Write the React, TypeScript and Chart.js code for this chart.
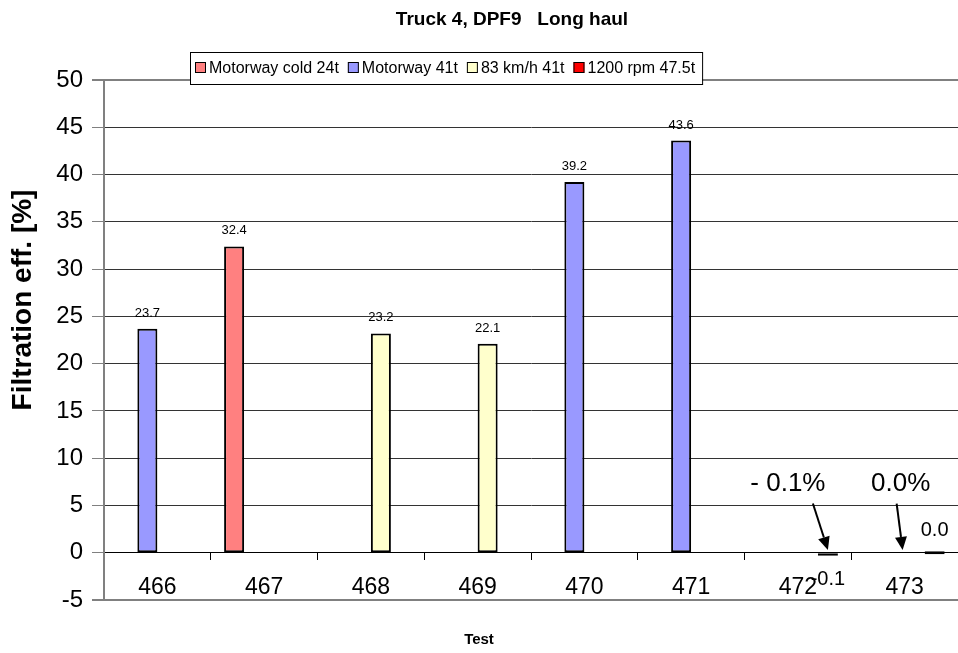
import React, { useEffect, useRef } from 'react';
import { Chart, registerables } from 'chart.js';

Chart.register(...registerables);

// ---------- data ----------
const tests = ['466', '467', '468', '469', '470', '471', '472', '473'];
const seriesNames = ['Motorway cold 24t', 'Motorway 41t', '83 km/h 41t', '1200 rpm 47.5t'];
const motorwayCold24t = [null, 32.4, null, null, null, null, null, null];
const motorway41t = [23.7, null, null, null, 39.2, 43.6, null, null];
const kmh83_41t = [null, null, 23.2, 22.1, null, null, null, null];
const rpm1200_475t = [null, null, null, null, null, null, -0.1, 0.0];
const yMin = -5;
const yMax = 50;
const yStep = 5;
const chartTitle = 'Truck 4, DPF9   Long haul';
const yTitle = 'Filtration eff. [%]';
const xTitle = 'Test';
const bigLabelTests = ['472', '473'];
const callouts = [
  { test: '472', text: '- 0.1%' },
  { test: '473', text: '0.0%' },
];

// ---------- style ----------
const FONT = '"Liberation Sans", Arial, Helvetica, sans-serif';
const colors = ['#FF8080', '#9999FF', '#FFFFCC', '#FF0000'];
const calloutStyle: Record<string, { tdx: number; tv: number; sdx: number; sv: number; edx: number; ev: number }> = {
  '472': { tdx: -40, tv: 7.3, sdx: -15, sv: 5.2, edx: 0, ev: 0.3 },
  '473': { tdx: -34, tv: 7.3, sdx: -38, sv: 5.2, edx: -32, ev: 0.3 },
};

function drawArrow(ctx: CanvasRenderingContext2D, x1: number, y1: number, x2: number, y2: number) {
  const ang = Math.atan2(y2 - y1, x2 - x1);
  const head = 13;
  const hw = 6;
  const bx = x2 - head * Math.cos(ang);
  const by = y2 - head * Math.sin(ang);
  ctx.save();
  ctx.strokeStyle = '#000';
  ctx.fillStyle = '#000';
  ctx.lineWidth = 2;
  ctx.beginPath();
  ctx.moveTo(x1, y1);
  ctx.lineTo(bx, by);
  ctx.stroke();
  ctx.beginPath();
  ctx.moveTo(x2, y2);
  ctx.lineTo(bx + hw * Math.sin(ang), by - hw * Math.cos(ang));
  ctx.lineTo(bx - hw * Math.sin(ang), by + hw * Math.cos(ang));
  ctx.closePath();
  ctx.fill();
  ctx.restore();
}

const decorPlugin = {
  id: 'decor',
  afterDraw(chart: any) {
    const ctx: CanvasRenderingContext2D = chart.ctx;
    const yScale = chart.scales.y;
    const xScale = chart.scales.x;

    // data labels
    chart.data.datasets.forEach((ds: any, di: number) => {
      const meta = chart.getDatasetMeta(di);
      meta.data.forEach((el: any, i: number) => {
        const v = ds.data[i];
        if (v === null || v === undefined) return;
        const big = bigLabelTests.includes(tests[i]);
        const size = big ? 20 : 13;
        const gap = big ? 15 : 12;
        ctx.save();
        ctx.fillStyle = '#000';
        ctx.font = `${size}px ${FONT}`;
        ctx.textAlign = 'center';
        ctx.textBaseline = 'alphabetic';
        const top = Math.min(el.y, el.base);
        const bottom = Math.max(el.y, el.base);
        if (v < 0) {
          ctx.fillText(v.toFixed(1), el.x, bottom + gap + size * 0.72);
        } else {
          ctx.fillText(v.toFixed(1), el.x, top - gap);
        }
        ctx.restore();
      });
    });

    // legend
    ctx.save();
    ctx.font = `16px ${FONT}`;
    const lx = 190, ly = 52, lh = 32;
    let total = 5;
    seriesNames.forEach((n, i) => {
      total += 11 + 3 + ctx.measureText(n).width + (i < seriesNames.length - 1 ? 9 : 0);
    });
    const lw = total + 7;
    ctx.fillStyle = '#fff';
    ctx.fillRect(lx, ly, lw, lh);
    ctx.strokeStyle = '#000';
    ctx.lineWidth = 1;
    ctx.strokeRect(lx + 0.5, ly + 0.5, lw, lh);
    let cx = lx + 5;
    chart.data.datasets.forEach((ds: any) => {
      ctx.fillStyle = ds.backgroundColor;
      ctx.fillRect(cx, ly + 10, 11, 11);
      ctx.strokeStyle = '#000';
      ctx.strokeRect(cx + 0.5, ly + 10.5, 10, 10);
      cx += 14;
      ctx.fillStyle = '#000';
      ctx.textBaseline = 'middle';
      ctx.textAlign = 'left';
      ctx.fillText(ds.label, cx, ly + 16.5);
      cx += ctx.measureText(ds.label).width + 9;
    });
    ctx.restore();

    // callouts
    const lastMeta = chart.getDatasetMeta(chart.data.datasets.length - 1);
    callouts.forEach((c) => {
      const idx = tests.indexOf(c.test);
      const el: any = lastMeta.data[idx];
      const s = calloutStyle[c.test];
      const bx = el ? el.x : xScale.getPixelForValue(idx);
      ctx.save();
      ctx.fillStyle = '#000';
      ctx.font = `26px ${FONT}`;
      ctx.textAlign = 'center';
      ctx.textBaseline = 'middle';
      ctx.fillText(c.text, bx + s.tdx, yScale.getPixelForValue(s.tv));
      ctx.restore();
      drawArrow(ctx, bx + s.sdx, yScale.getPixelForValue(s.sv), bx + s.edx, yScale.getPixelForValue(s.ev));
    });

    // titles
    ctx.save();
    ctx.fillStyle = '#000';
    ctx.textAlign = 'center';
    ctx.textBaseline = 'middle';
    ctx.font = `bold 19px ${FONT}`;
    ctx.fillText(chartTitle, 512, 20);
    ctx.font = `bold 15px ${FONT}`;
    ctx.fillText(xTitle, 479, 640);
    ctx.translate(23.5, 300);
    ctx.rotate(-Math.PI / 2);
    ctx.font = `bold 28px ${FONT}`;
    ctx.fillText(yTitle, 0, 0);
    ctx.restore();
  },
};

export default function App() {
  const ref = useRef<HTMLCanvasElement | null>(null);

  useEffect(() => {
    if (!ref.current) return;
    const seriesData = [motorwayCold24t, motorway41t, kmh83_41t, rpm1200_475t];
    const chart = new Chart(ref.current, {
      type: 'bar',
      data: {
        labels: tests,
        datasets: seriesNames.map((name, i) => ({
          label: name,
          data: seriesData[i],
          backgroundColor: colors[i],
          borderColor: '#000',
          borderWidth: 2,
          borderSkipped: false,
          categoryPercentage: 0.75,
          barPercentage: 1.0,
          minBarLength: i === 3 ? 3 : 0,
        })),
      },
      options: {
        responsive: false,
        animation: false,
        layout: { padding: { top: 80, bottom: 53, left: 0, right: -2 } },
        plugins: {
          legend: { display: false },
          title: { display: false },
          tooltip: { enabled: false },
        },
        scales: {
          x: {
            type: 'category',
            position: { y: 0 },
            offset: true,
            grid: {
              display: true,
              drawOnChartArea: false,
              drawTicks: true,
              tickLength: 7,
              color: '#000',
              offset: true,
            },
            border: { display: true, color: '#000', width: 1 },
            ticks: {
              color: '#000',
              font: { family: FONT, size: 23 },
              padding: 14,
              maxRotation: 0,
              autoSkip: false,
            },
            afterFit: (s: any) => {
              s.height = 0;
            },
          },
          y: {
            min: yMin,
            max: yMax,
            ticks: {
              stepSize: yStep,
              color: '#000',
              font: { family: FONT, size: 24 },
              padding: 9,
            },
            grid: {
              color: (c: any) =>
                c.tick && (c.tick.value === yMin || c.tick.value === yMax) ? '#808080' : c.tick && c.tick.value === 0 ? '#000' : '#333',
              lineWidth: (c: any) => (c.tick && (c.tick.value === yMin || c.tick.value === yMax) ? 2 : 1),
              tickLength: 12,
              tickColor: '#808080',
              drawTicks: true,
            },
            border: { display: true, color: '#808080', width: 2 },
            afterFit: (s: any) => {
              s.width = 104;
            },
          },
        },
      } as any,
      plugins: [decorPlugin],
    });
    return () => chart.destroy();
  }, []);

  return (
    <div style={{ position: 'absolute', left: 0, top: 0, width: 958, height: 653, background: '#fff' }}>
      <canvas ref={ref} width={958} height={653} style={{ display: 'block' }} />
    </div>
  );
}
